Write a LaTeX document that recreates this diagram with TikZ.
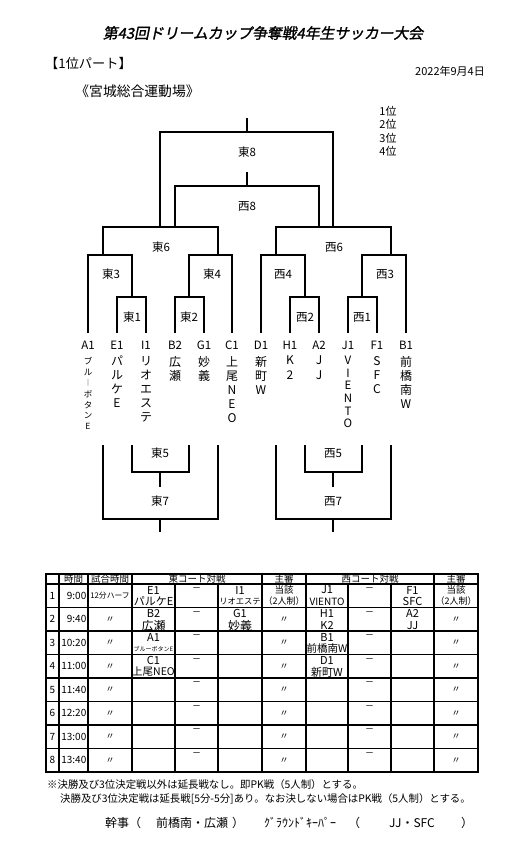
\documentclass[tikz,border=0pt]{standalone}
\usepackage{fontspec}
\setmainfont{Noto Sans CJK JP}
\newfontfamily\titlefont[FakeSlant=0.2,FakeBold=1.5]{Noto Sans CJK JP}
\newcommand\fz[1]{\fontsize{#1}{#1}\selectfont}
\newcommand\vbar{\raisebox{0.05em}{\fontsize{7}{7}\selectfont ｜}}
\begin{document}
\begin{tikzpicture}[x=1pt,y=-1pt,
  br/.style={line width=1.4pt},
  lbl/.style={inner sep=0pt, font=\fz{11.5}},
  code/.style={inner sep=0pt, font=\fz{11.5}},
  vname/.style={inner sep=0pt, anchor=north, align=center, font=\fontsize{12}{14}\selectfont},
  tin/.style={line width=1.4pt},
  tout/.style={line width=2pt},
  th/.style={inner sep=0pt, font=\fz{9.5}},
  tc/.style={inner sep=0pt, font=\fz{10}},
  tcode/.style={inner sep=0pt, font=\fz{11}},
  dit/.style={inner sep=0pt, font=\fz{9}},
  foot/.style={inner sep=0pt, anchor=west, font=\fz{10.4}},
  bot/.style={inner sep=0pt, font=\fz{12}}]
\useasboundingbox (0,0) rectangle (525,843);

% ---- headings
\node[inner sep=0pt, font=\titlefont\fz{14.8}] (title) at (263,33) {第43回ドリームカップ争奪戦4年生サッカー大会};
\node[inner sep=0pt, font=\fz{13.2}] (part) at (88.5,63) {【1位パート】};
\node[inner sep=0pt, font=\fz{11}] (date) at (450,71) {2022年9月4日};
\node[inner sep=0pt, font=\fz{13.8}] (venue) at (137.5,91) {《宮城総合運動場》};
\node[inner sep=0pt, font=\fz{11}] (p1) at (388,111) {1位};
\node[inner sep=0pt, font=\fz{11}] (p2) at (388,124.5) {2位};
\node[inner sep=0pt, font=\fz{11}] (p3) at (388,138) {3位};
\node[inner sep=0pt, font=\fz{11}] (p4) at (388,151.5) {4位};

% ---- upper bracket
\draw[br] (247,118) -- (247,132);
\draw[br] (160,227) -- (160,132) -- (333,132) -- (333,227);
\draw[br] (247,172) -- (247,186);
\draw[br] (175,227) -- (175,186) -- (319,186) -- (319,227);
\draw[br] (103,255) -- (103,227) -- (218,227) -- (218,255);
\draw[br] (276,255) -- (276,227) -- (391,227) -- (391,255);
\draw[br] (88,333) -- (88,255) -- (132,255) -- (132,297);
\draw[br] (189,297) -- (189,255) -- (232,255) -- (232,333);
\draw[br] (261,333) -- (261,255) -- (305,255) -- (305,297);
\draw[br] (362,297) -- (362,255) -- (406,255) -- (406,333);
\draw[br] (117,333) -- (117,297) -- (146,297) -- (146,333);
\draw[br] (175,333) -- (175,297) -- (204,297) -- (204,333);
\draw[br] (290,333) -- (290,297) -- (319,297) -- (319,333);
\draw[br] (348,333) -- (348,297) -- (377,297) -- (377,333);

\node[lbl] (E8) at (247,152) {東8};
\node[lbl] (W8) at (247,206) {西8};
\node[lbl] (E6) at (161,247) {東6};
\node[lbl] (W6) at (334,247) {西6};
\node[lbl] (E3) at (111,274) {東3};
\node[lbl] (E4) at (212,274) {東4};
\node[lbl] (W4) at (283,274) {西4};
\node[lbl] (W3) at (385,274) {西3};
\node[lbl] (E1) at (132,317) {東1};
\node[lbl] (E2) at (189,317) {東2};
\node[lbl] (W2) at (305,317) {西2};
\node[lbl] (W1) at (362,317) {西1};

% ---- teams
\node[code] (tA1) at (88,345) {A1};
\node[code] (tE1) at (117,345) {E1};
\node[code] (tI1) at (146,345) {I1};
\node[code] (tB2) at (175,345) {B2};
\node[code] (tG1) at (204,345) {G1};
\node[code] (tC1) at (232,345) {C1};
\node[code] (tD1) at (261,345) {D1};
\node[code] (tH1) at (290,345) {H1};
\node[code] (tA2) at (319,345) {A2};
\node[code] (tJ1) at (348,345) {J1};
\node[code] (tF1) at (377,345) {F1};
\node[code] (tB1) at (406,345) {B1};

\node[vname, font=\fontsize{8.5}{10.9}\selectfont] (nA1) at (88,357) {ブ\\ル\\\vbar\\ボ\\タ\\ン\\E};
\node[vname] (nE1) at (117,356) {パ\\ル\\ケ\\E};
\node[vname] (nI1) at (146,356) {リ\\オ\\エ\\ス\\テ};
\node[vname] (nB2) at (175,356) {広\\瀬};
\node[vname] (nG1) at (204,356) {妙\\義};
\node[vname] (nC1) at (232,356) {上\\尾\\N\\E\\O};
\node[vname] (nD1) at (261,356) {新\\町\\W};
\node[vname] (nH1) at (290,356) {K\\2};
\node[vname] (nA2) at (319,356) {J\\J};
\node[vname, font=\fontsize{11.5}{12.6}\selectfont] (nJ1) at (348,356) {V\\I\\E\\N\\T\\O};
\node[vname] (nF1) at (377,356) {S\\F\\C};
\node[vname] (nB1) at (406,356) {前\\橋\\南\\W};

% ---- lower bracket
\draw[br] (132,445) -- (132,472) -- (189,472) -- (189,445);
\draw[br] (160,472) -- (160,487);
\draw[br] (103,445) -- (103,519) -- (218,519) -- (218,445);
\draw[br] (160,519) -- (160,532);
\draw[br] (305,445) -- (305,472) -- (362,472) -- (362,445);
\draw[br] (333,472) -- (333,487);
\draw[br] (276,445) -- (276,519) -- (391,519) -- (391,445);
\draw[br] (333,519) -- (333,532);
\node[lbl] (E5) at (160,453) {東5};
\node[lbl] (W5) at (333,453) {西5};
\node[lbl] (E7) at (160,501) {東7};
\node[lbl] (W7) at (333,501) {西7};

% ---- table grid
\foreach \i in {1,...,7} {
  \draw[tin] (46,584+\i*23.5) -- (478,584+\i*23.5);
}
\draw[tin] (46,584) -- (478,584);
\foreach \x in {59,88,132,262,306,434} { \draw[tin] (\x,574) -- (\x,772); }
\foreach \x in {175,218,348,391} { \draw[tin] (\x,584) -- (\x,772); }
\draw[tout] (46,574) rectangle (478,772);

% header
\node[th] (h1) at (73.5,579) {時間};
\node[th] (h2) at (110,579) {試合時間};
\node[th] (h3) at (197,579) {東コート対戦};
\node[th] (h4) at (284,579) {主審};
\node[th] (h5) at (370,579) {西コート対戦};
\node[th] (h6) at (456,579) {主審};

% fixed columns
\foreach \i/\t in {1/9:00,2/9:40,3/10:20,4/11:00,5/11:40,6/12:20,7/13:00,8/13:40} {
  \pgfmathsetmacro\yc{584+(\i-1)*23.5+11.75}
  \node[tc] (num\i) at (52.5,\yc) {\i};
  \node[tc, anchor=east] (tm\i) at (86.5,\yc) {\t};
  \node[dit] (dE\i) at (196.5,\yc-6) {－};
  \node[dit] (dW\i) at (369.5,\yc-6) {－};
}
\foreach \i in {2,...,8} {
  \pgfmathsetmacro\yc{584+(\i-1)*23.5+11.75}
  \node[dit] (gm\i) at (110,\yc) {〃};
  \node[dit] (rE\i) at (284,\yc) {〃};
  \node[dit] (rW\i) at (456,\yc) {〃};
}
\node[inner sep=0pt, font=\fz{7.8}] (gm1) at (110,595.75) {12分ハーフ};

% row 1
\node[tcode] (c14a) at (153.5,590) {E1};
\node[inner sep=0pt, font=\fz{11}] (c14b) at (153.5,601.5) {パルケE};
\node[tcode] (c16a) at (240,590) {I1};
\node[inner sep=0pt, font=\fz{8.3}] (c16b) at (240,601.5) {リオエステ};
\node[inner sep=0pt, font=\fz{9.5}] (c17a) at (284,590) {当該};
\node[inner sep=0pt, font=\fz{9}] (c17b) at (284,601.5) {（2人制）};
\node[tcode] (c18a) at (327,590) {J1};
\node[inner sep=0pt, font=\fz{10}] (c18b) at (327,601.5) {VIENTO};
\node[tcode] (c110a) at (412.5,590) {F1};
\node[inner sep=0pt, font=\fz{11}] (c110b) at (412.5,601.5) {SFC};
\node[inner sep=0pt, font=\fz{9.5}] (c111a) at (456,590) {当該};
\node[inner sep=0pt, font=\fz{9}] (c111b) at (456,601.5) {（2人制）};
% row 2
\node[tcode] (c24a) at (153.5,613.5) {B2};
\node[inner sep=0pt, font=\fz{12}] (c24b) at (153.5,625.5) {広瀬};
\node[tcode] (c26a) at (240,613.5) {G1};
\node[inner sep=0pt, font=\fz{12}] (c26b) at (240,625.5) {妙義};
\node[tcode] (c28a) at (327,613.5) {H1};
\node[inner sep=0pt, font=\fz{11}] (c28b) at (327,625.5) {K2};
\node[tcode] (c210a) at (412.5,613.5) {A2};
\node[inner sep=0pt, font=\fz{11}] (c210b) at (412.5,625.5) {JJ};
% row 3
\node[tcode] (c34a) at (153.5,637) {A1};
\node[inner sep=0pt, font=\fz{6}] (c34b) at (153.5,649) {ブルーボタンE};
\node[tcode] (c38a) at (327,637) {B1};
\node[inner sep=0pt, font=\fz{10.5}] (c38b) at (327,648.5) {前橋南W};
% row 4
\node[tcode] (c44a) at (153.5,660.5) {C1};
\node[inner sep=0pt, font=\fz{10.5}] (c44b) at (153.5,672) {上尾NEO};
\node[tcode] (c48a) at (327,660.5) {D1};
\node[inner sep=0pt, font=\fz{11}] (c48b) at (327,672) {新町W};

% ---- footnotes
\node[foot] (f1) at (47,785) {※決勝及び3位決定戦以外は延長戦なし。即PK戦（5人制）とする。};
\node[foot] (f2) at (60,799) {決勝及び3位決定戦は延長戦[5分-5分]あり。なお決しない場合はPK戦（5人制）とする。};
\node[bot] (k1) at (117,823) {幹事};
\node[bot] (k2) at (135,823) {（};
\node[bot] (k3) at (192,823) {前橋南・広瀬};
\node[bot] (k4) at (238,823) {）};
\node[bot] (g1) at (300,823) {ｸﾞﾗｳﾝﾄﾞｷｰﾊﾟｰ};
\node[bot] (g2) at (354,823) {（};
\node[bot] (g3) at (412,823) {JJ・SFC};
\node[bot] (g4) at (467,823) {）};
\end{tikzpicture}
\end{document}
